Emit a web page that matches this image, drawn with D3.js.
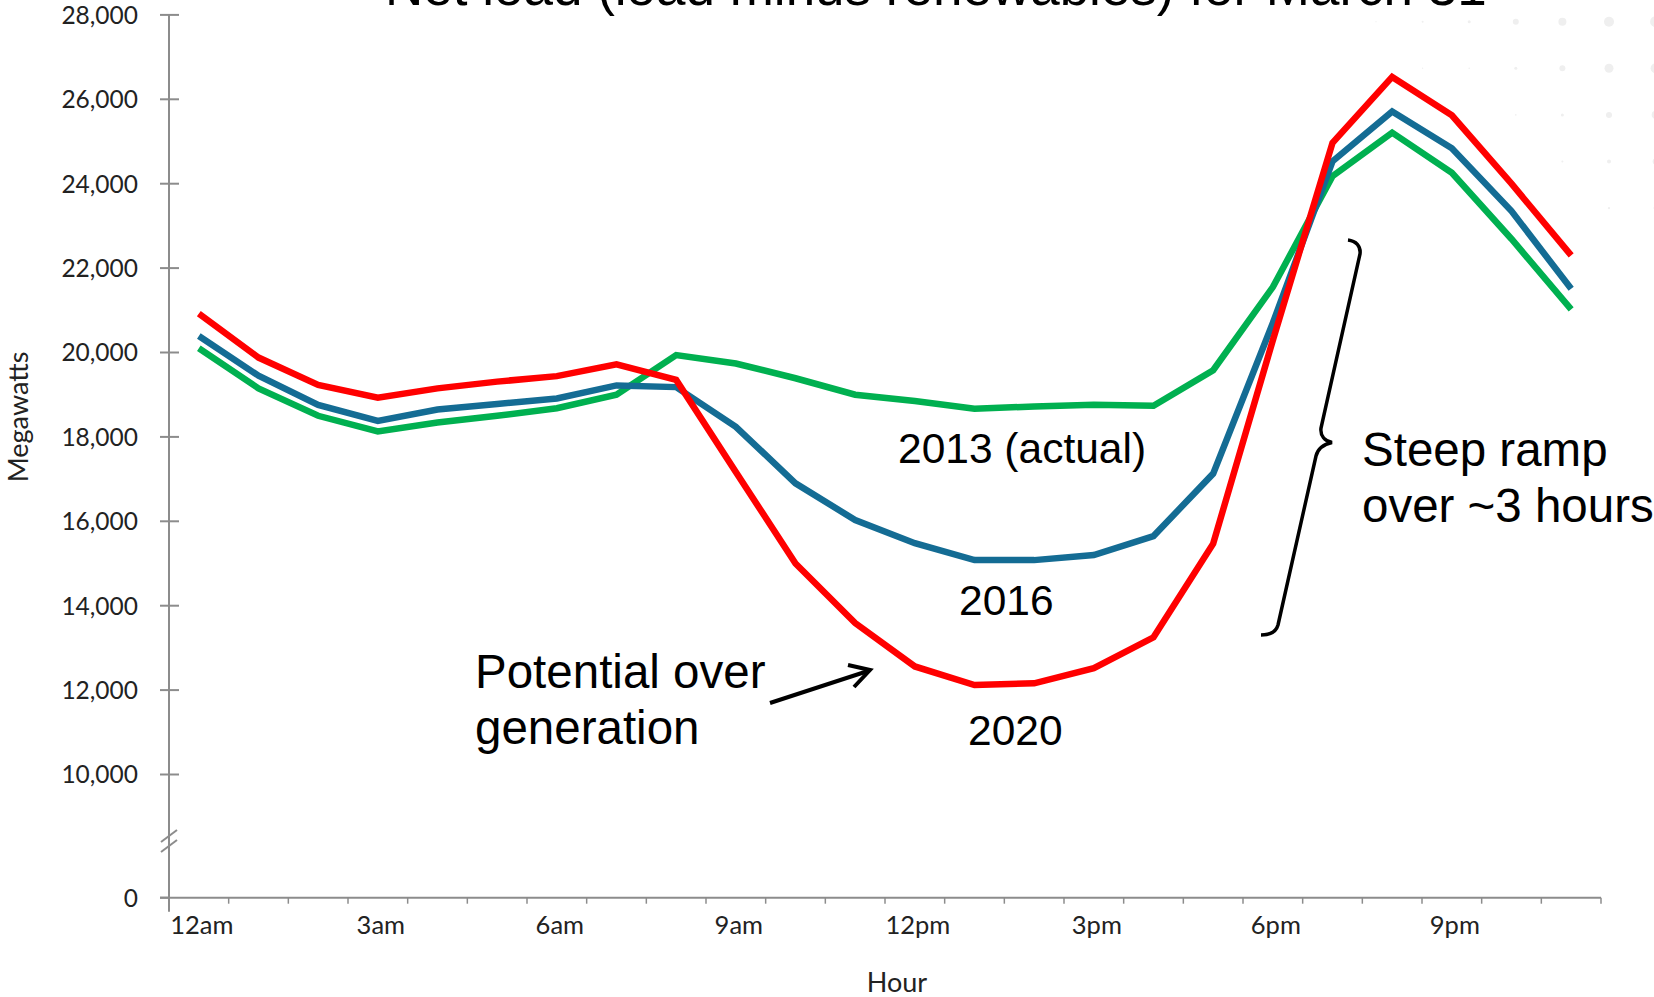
<!DOCTYPE html>
<html>
<head>
<meta charset="utf-8">
<script src="https://cdn.jsdelivr.net/npm/d3@7"></script>
<style>
  html, body { margin: 0; padding: 0; background: #fff; }
  svg { display: block; }
  .axis-label { font-family: Lato, "DejaVu Sans", sans-serif; fill: #222; }
  .note { font-family: "Liberation Sans", Arial, sans-serif; fill: #000; }
</style>
</head>
<body>
<svg id="chart" width="1654" height="997"></svg>
<script>
// Hourly net load (MW) for March 31
const hourLabels = ["12am","1am","2am","3am","4am","5am","6am","7am","8am","9am","10am","11am",
                    "12pm","1pm","2pm","3pm","4pm","5pm","6pm","7pm","8pm","9pm","10pm","11pm"];
const load2013 = [20100, 19150, 18500, 18130, 18340, 18500, 18680, 19000, 19940, 19740, 19390, 19000,
                  18850, 18670, 18720, 18760, 18740, 19580, 21550, 24180, 25210, 24260, 22690, 21020];
const load2016 = [20390, 19450, 18760, 18380, 18650, 18780, 18910, 19220, 19180, 18240, 16900, 16030,
                  15480, 15080, 15080, 15200, 15650, 17130, 20700, 24530, 25710, 24840, 23350, 21510];
const load2020 = [20920, 19880, 19230, 18930, 19150, 19310, 19440, 19720, 19350, 17170, 15000, 13590,
                  12560, 12120, 12160, 12520, 13250, 15470, 20290, 24970, 26530, 25620, 24000, 22300];
const yTickValues = [0, 10000, 12000, 14000, 16000, 18000, 20000, 22000, 24000, 26000, 28000];
const xTickLabels = ["12am", "3am", "6am", "9am", "12pm", "3pm", "6pm", "9pm"];

const seriesList = [
  { name: "2013", values: load2013, color: "#00B050" },
  { name: "2016", values: load2016, color: "#146C94" },
  { name: "2020", values: load2020, color: "#FF0000" }
];

const svg = d3.select("#chart");
svg.append("rect").attr("width", 1654).attr("height", 997).attr("fill", "#fff");

// faint dotted backdrop in the upper right corner
const dotRows = [
  [0.6, 1.0, 1.5, 3.0, 4.0, 5.0, 5.5],
  [0, 0.7, 0.8, 1.5, 3.0, 4.5, 5.0],
  [0, 0, 0, 0.8, 1.5, 3.0, 4.0],
  [0, 0, 0, 0, 1.0, 2.0, 3.0],
  [0, 0, 0, 0, 0, 1.2, 2.0]
];
const dots = svg.append("g");
dotRows.forEach((row, r) => row.forEach((rad, c) => {
  if (rad > 0) dots.append("circle")
    .attr("cx", 1376 + c * 46.6).attr("cy", 21.7 + r * 46.6).attr("r", rad)
    .attr("fill", "#efefef");
}));

// scales: y axis is broken between 0 and 10,000
const x = d3.scaleBand().domain(hourLabels).range([169, 1601]).padding(0);
const y = d3.scaleLinear().domain([0, 10000, 28000]).range([897.7, 774.5, 14.9]);
const axisColor = "#8c8c8c";

// title, mostly above the visible area
svg.append("text").attr("class", "note")
  .attr("x", 385).attr("y", 5).attr("font-size", 53)
  .text("Net load (load minus renewables) for March 31");

// y axis
const yAxis = svg.append("g");
yAxis.append("line")
  .attr("x1", 169).attr("x2", 169)
  .attr("y1", y(28000)).attr("y2", y(0) + 14)
  .attr("stroke", axisColor).attr("stroke-width", 2);
yTickValues.forEach(v => {
  yAxis.append("line")
    .attr("x1", 160).attr("x2", v === 0 ? 169 : 179)
    .attr("y1", y(v)).attr("y2", y(v))
    .attr("stroke", axisColor).attr("stroke-width", 2);
  yAxis.append("text").attr("class", "axis-label")
    .attr("x", 138).attr("y", y(v)).attr("dy", "0.36em")
    .attr("text-anchor", "end").attr("font-size", 24.5)
    .text(d3.format(",")(v));
});
// axis break marks
const breakY = 841;
[-5, 5].forEach(off => {
  yAxis.append("line")
    .attr("x1", 161).attr("x2", 177)
    .attr("y1", breakY + off + 6).attr("y2", breakY + off - 6)
    .attr("stroke", axisColor).attr("stroke-width", 2);
});
yAxis.append("text").attr("class", "axis-label")
  .attr("transform", "translate(28,417) rotate(-90)")
  .attr("text-anchor", "middle").attr("font-size", 27)
  .text("Megawatts");

// x axis with ticks on hour boundaries
const xAxis = svg.append("g");
const x1 = x.range()[1];
xAxis.append("line")
  .attr("x1", 160).attr("x2", x1)
  .attr("y1", y(0)).attr("y2", y(0))
  .attr("stroke", axisColor).attr("stroke-width", 2);
hourLabels.concat([null]).forEach((h, i) => {
  const xp = h === null ? x1 : x(h);
  if (i === 0) return;
  xAxis.append("line")
    .attr("x1", xp).attr("x2", xp)
    .attr("y1", y(0)).attr("y2", y(0) + 6)
    .attr("stroke", axisColor).attr("stroke-width", 1.5);
});
xTickLabels.forEach(lab => {
  xAxis.append("text").attr("class", "axis-label")
    .attr("x", x(lab) + x.bandwidth() / 2 + 3).attr("y", 934)
    .attr("text-anchor", "middle").attr("font-size", 25.5)
    .text(lab);
});
xAxis.append("text").attr("class", "axis-label")
  .attr("x", 897).attr("y", 992)
  .attr("text-anchor", "middle").attr("font-size", 27)
  .text("Hour");

// net load curves
const line = d3.line()
  .x((d, i) => x(hourLabels[i]) + x.bandwidth() / 2)
  .y(d => y(d));
svg.append("g").selectAll("path")
  .data(seriesList)
  .join("path")
  .attr("d", s => line(s.values))
  .attr("fill", "none")
  .attr("stroke", s => s.color)
  .attr("stroke-width", 6.5)
  .attr("stroke-linejoin", "miter");

// annotations
const notes = svg.append("g");
const addNote = (txt, xp, yp, size) => notes.append("text").attr("class", "note")
  .attr("x", xp).attr("y", yp).attr("font-size", size).text(txt);
addNote("2013 (actual)", 898, 463, 42.5);
addNote("2016", 959, 615, 42.5);
addNote("2020", 968, 745, 42.5);
addNote("Potential over", 475, 688, 47.5);
addNote("generation", 475, 744, 47.5);
addNote("Steep ramp", 1362, 466, 47.5);
addNote("over ~3 hours", 1362, 522, 47.5);

// arrow toward the midday trough
notes.append("line")
  .attr("x1", 770).attr("y1", 703).attr("x2", 868).attr("y2", 671)
  .attr("stroke", "#000").attr("stroke-width", 4);
notes.append("path")
  .attr("d", "M848,665 L870,670 L854,687")
  .attr("fill", "none").attr("stroke", "#000").attr("stroke-width", 4)
  .attr("stroke-linejoin", "miter");

// brace spanning the evening ramp
notes.append("path")
  .attr("d", "M1348,240 C1356,241 1361,246 1360,254 L1321,428 C1320,436 1325,441 1332,442.5 " +
             "C1325,444 1318,448 1316,456 L1278,625 C1276,632 1270,635 1261,635")
  .attr("fill", "none").attr("stroke", "#000").attr("stroke-width", 3.5);
</script>
</body>
</html>
